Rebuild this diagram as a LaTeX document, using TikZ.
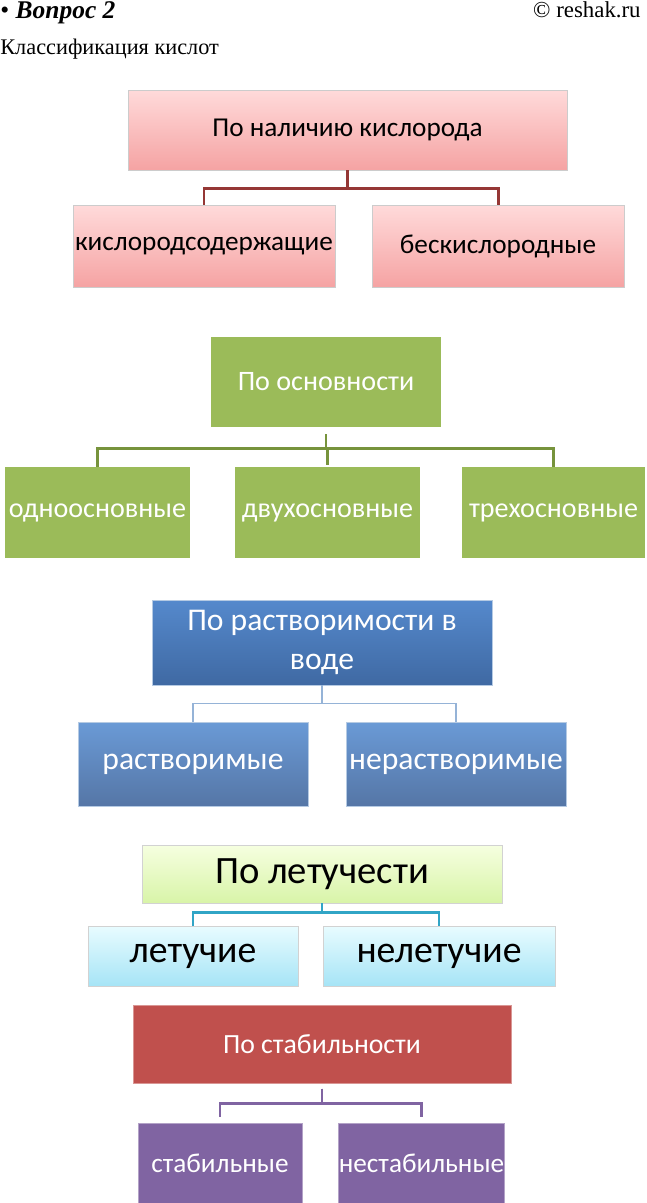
\documentclass[tikz,border=0pt]{standalone}
\usepackage{fontspec}
\setmainfont{Liberation Serif}
\newfontfamily\boxfont{Carlito}
\usetikzlibrary{shadows}

\definecolor{pinktop}{HTML}{FFDADA}
\definecolor{pinkbot}{HTML}{F5A3A3}
\definecolor{pinkline}{HTML}{953735}
\definecolor{olive}{HTML}{9BBB59}
\definecolor{oliveline}{HTML}{77933C}
\definecolor{bluetop}{HTML}{5589CC}
\definecolor{bluebot}{HTML}{3F69A3}
\definecolor{lbluetop}{HTML}{6A9AD6}
\definecolor{lbluebot}{HTML}{5576A6}
\definecolor{blueline}{HTML}{95B3D7}
\definecolor{limetop}{HTML}{F6FFE0}
\definecolor{limebot}{HTML}{D8F4A8}
\definecolor{cyantop}{HTML}{E8FCFF}
\definecolor{cyanbot}{HTML}{A6E4F6}
\definecolor{cyanline}{HTML}{31A5C6}
\definecolor{brick}{HTML}{C0504D}
\definecolor{plum}{HTML}{8064A2}

\begin{document}
\begin{tikzpicture}[x=0.02cm, y=-0.02cm,
    box/.style={rectangle, inner sep=0pt, align=center},
    shade/.style={drop shadow={opacity=0.25, shadow xshift=0.8pt, shadow yshift=-0.8pt}},
    pinkbox/.style={box, shade, top color=pinktop, bottom color=pinkbot, draw=gray!40,
        font={\boxfont\fontsize{15.5}{18}\selectfont}},
    olivebox/.style={box, fill=olive, text=white, font={\boxfont\fontsize{16}{19}\selectfont}},
    bluebox/.style={box, shade, top color=bluetop, bottom color=bluebot, draw=blueline!70,
        text=white, font={\boxfont\fontsize{18}{22}\selectfont}},
    lbluebox/.style={bluebox, top color=lbluetop, bottom color=lbluebot},
    limebox/.style={box, shade, top color=limetop, bottom color=limebot, draw=gray!35,
        font={\boxfont\fontsize{22}{26}\selectfont}},
    cyanbox/.style={limebox, top color=cyantop, bottom color=cyanbot,
        font={\boxfont\fontsize{21.5}{26}\selectfont}},
    brickbox/.style={box, fill=brick, draw=brick!60, text=white, font={\boxfont\fontsize{15.8}{19}\selectfont}},
    plumbox/.style={box, fill=plum, draw=plum!60, text=white, font={\boxfont\fontsize{15.5}{19}\selectfont}},
    link/.style={line width=1.7pt}
]
    \useasboundingbox (0,0) rectangle (646,1203);

    % Header
    \node[anchor=base west, inner sep=0pt, font=\fontsize{14.5}{17}\selectfont] (head) at (0,19)
        {\textbullet\ \textbf{\textit{Вопрос 2}}};
    \node[anchor=base east, inner sep=0pt, font=\fontsize{13}{16}\selectfont] (site) at (641,18)
        {© reshak.ru};
    \node[anchor=base west, inner sep=0pt, font=\fontsize{12.7}{16}\selectfont] (title) at (0,55)
        {Классификация кислот};

    % By oxygen
    \node[pinkbox, minimum width=8.78cm, minimum height=1.6cm] (ox) at (347.5,130) {По наличию кислорода};
    \node[pinkbox, minimum width=5.24cm, minimum height=1.64cm] (ox1) at (204,246) {кислородсодержащие};
    \node[pinkbox, minimum width=5.04cm, minimum height=1.64cm] (ox2) at (498,246) {бескислородные};
    \draw[link, pinkline] (ox.south) -- ++(0,18) -| (ox1.north);
    \draw[link, pinkline] (ox.south) -- ++(0,18) -| (ox2.north);

    % By basicity
    \node[olivebox, minimum width=4.6cm, minimum height=1.8cm] (bs) at (326,382) {По основности};
    \node[olivebox, minimum width=3.7cm, minimum height=1.82cm] (bs1) at (97.5,512.5) {одноосновные};
    \node[olivebox, minimum width=3.7cm, minimum height=1.82cm] (bs2) at (327.5,512.5) {двухосновные};
    \node[olivebox, minimum width=3.66cm, minimum height=1.82cm] (bs3) at (553.5,512.5) {трехосновные};
    \draw[link, oliveline, shorten <=4pt] (bs.south) -- ++(0,21) -| (bs1.north);
    \draw[link, oliveline, shorten <=4pt, shorten >=1pt] (bs.south) -- ++(0,21) -| (bs2.north);
    \draw[link, oliveline, shorten <=4pt] (bs.south) -- ++(0,21) -| (bs3.north);

    % By solubility
    \node[bluebox, minimum width=6.8cm, minimum height=1.7cm] (sol) at (322,642.5) {По растворимости в\\воде};
    \node[lbluebox, minimum width=4.6cm, minimum height=1.68cm] (sol1) at (193,764) {растворимые};
    \node[lbluebox, minimum width=4.4cm, minimum height=1.68cm] (sol2) at (456,764) {нерастворимые};
    \draw[blueline, line width=0.7pt] (sol.south) -- ++(0,18) -| (sol1.north);
    \draw[blueline, line width=0.7pt] (sol.south) -- ++(0,18) -| (sol2.north);

    % By volatility
    \node[limebox, minimum width=7.2cm, minimum height=1.16cm] (vol) at (322,874) {По летучести};
    \node[cyanbox, minimum width=4.2cm, minimum height=1.2cm] (vol1) at (193,956) {летучие};
    \node[cyanbox, minimum width=4.64cm, minimum height=1.2cm] (vol2) at (439,956) {нелетучие};
    \draw[link, cyanline] (vol.south) -- ++(0,9) -| (vol1.north);
    \draw[link, cyanline] (vol.south) -- ++(0,9) -| (vol2.north);

    % By stability
    \node[brickbox, minimum width=7.56cm, minimum height=1.56cm] (st) at (322,1044) {По стабильности};
    \node[plumbox, minimum width=3.28cm, minimum height=1.6cm] (st1) at (220,1163) {стабильные};
    \node[plumbox, minimum width=3.26cm, minimum height=1.6cm] (st2) at (421.5,1163) {нестабильные};
    \draw[link, plum, shorten <=3pt, shorten >=3pt] (st.south) -- ++(0,20) -| (st1.north);
    \draw[link, plum, shorten <=3pt, shorten >=3pt] (st.south) -- ++(0,20) -| (st2.north);
\end{tikzpicture}
\end{document}
